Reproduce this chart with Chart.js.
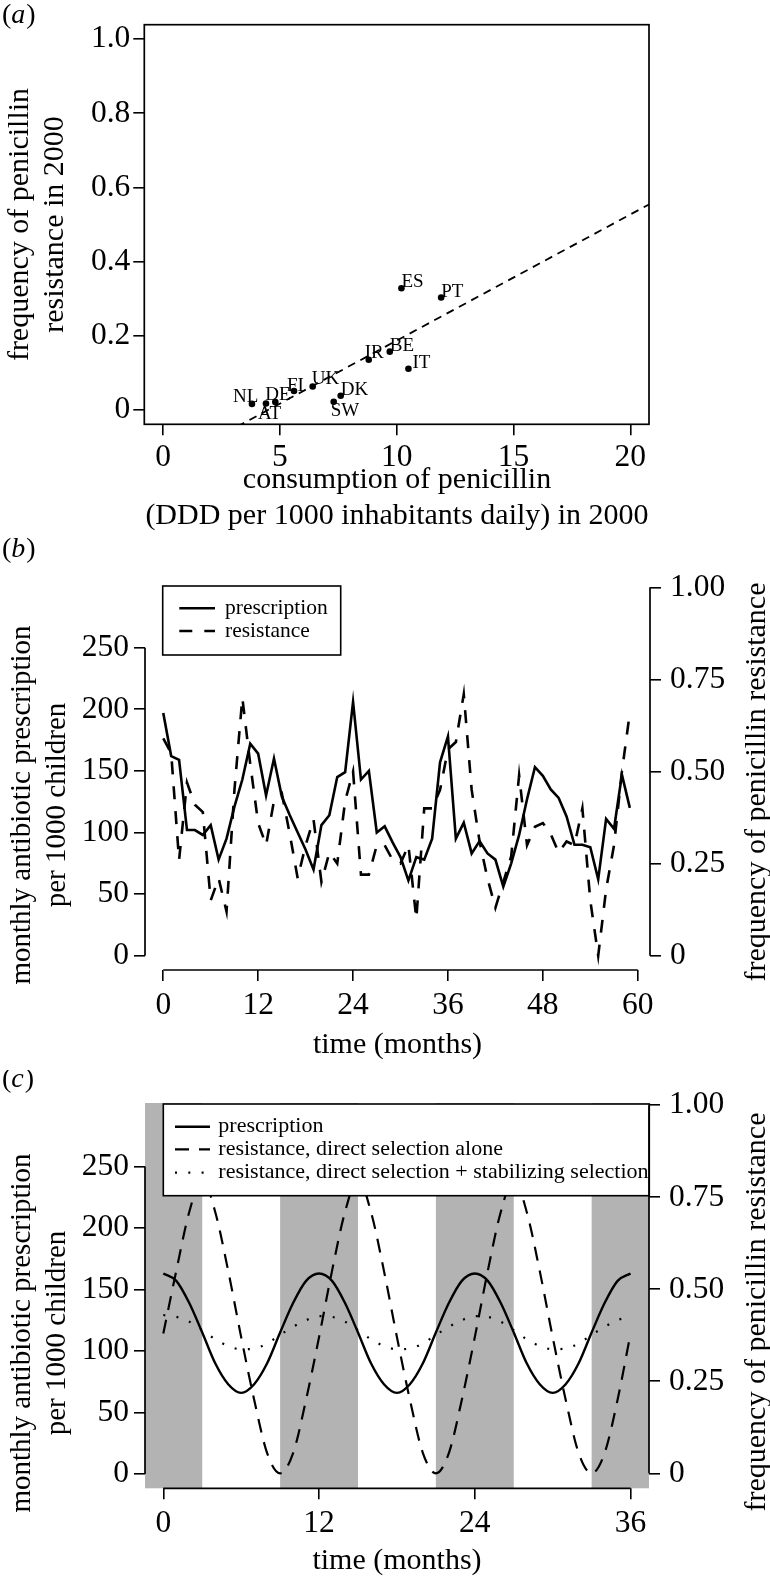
<!DOCTYPE html>
<html><head><meta charset="utf-8">
<script src="https://cdn.jsdelivr.net/npm/chart.js"></script>
<style>
html,body{margin:0;padding:0;background:#fff;}
#wrap{position:relative;width:770px;height:1582px;overflow:hidden;}
canvas{position:absolute;left:0;}
</style></head><body>
<div id="wrap">
<canvas id="ca" width="770" height="540" style="top:0px;width:770px;height:540px"></canvas>
<canvas id="cb" width="770" height="570" style="top:520px;width:770px;height:570px"></canvas>
<canvas id="cc" width="770" height="512" style="top:1070px;width:770px;height:512px"></canvas>
</div>
<script>
// ---------- Panel (a) data ----------
const countries      = ['NL','AT','DE','FI','UK','SW','DK','IR','BE','ES','IT','PT'];
const consumption    = [3.8, 4.4, 4.8, 5.6, 6.4, 7.3, 7.6, 8.8, 9.7, 10.2, 10.5, 11.9];
const resistance2000 = [0.016, 0.017, 0.021, 0.051, 0.063, 0.022, 0.038, 0.135, 0.157, 0.328, 0.111, 0.303];
const fitX = [0, 21];
const fitY = [-0.153, 0.561];
const aXTicks = [0, 5, 10, 15, 20];
const aXTickLabels = ['0','5','10','15','20'];
const aYTicks = [0, 0.2, 0.4, 0.6, 0.8, 1.0];
const aYTickLabels = ['0','0.2','0.4','0.6','0.8','1.0'];

// ---------- Panel (b) data ----------
const monthsB = [0,1,2,3,4,5,6,7,8,9,10,11,12,13,14,15,16,17,18,19,20,21,22,23,24,25,26,27,28,29,
                 30,31,32,33,34,35,36,37,38,39,40,41,42,43,44,45,46,47,48,49,50,51,52,53,54,55,56,57,58,59];
const prescriptionB = [197,162,159,102,102,98,106,78,95,121,143,172,164,130,160,129,114,100,86,70,
                       106,114,145,149,206,143,150,100,105,92,80,61,80,78,95,157,178,95,108,83,
                       93,83,78,56,75,98,127,153,146,135,128,113,90,90,88,62,111,103,147,120];
const resistanceB = [0.59,0.55,0.26,0.47,0.41,0.39,0.15,0.21,0.12,0.45,0.70,0.52,0.36,0.30,0.42,0.44,0.33,0.21,0.30,0.37,
                     0.20,0.28,0.25,0.42,0.50,0.22,0.22,0.30,0.30,0.26,0.25,0.30,0.10,0.40,0.40,0.45,0.56,0.58,0.71,0.45,
                     0.31,0.21,0.13,0.20,0.27,0.49,0.30,0.35,0.36,0.33,0.28,0.31,0.30,0.40,0.15,0.00,0.18,0.30,0.50,0.66];
const bXTicks = [0, 12, 24, 36, 48, 60];
const leftTicks = [0, 50, 100, 150, 200, 250];
const leftTickLabels = ['0','50','100','150','200','250'];
const rightTicks = [0, 0.25, 0.5, 0.75, 1];
const rightTickLabels = ['0','0.25','0.50','0.75','1.00'];

// ---------- Panel (c) data ----------
const monthsC = [0,1,2,3,4,5,6,7,8,9,10,11,12,13,14,15,16,17,18,19,20,21,22,23,24,25,26,27,28,29,30,31,32,33,34,35,36];
const prescriptionC = [163,157,139,115,90,73,66,73,90,115,139,157,163,157,139,115,90,73,66,73,90,115,139,157,
                       163,157,139,115,90,73,66,73,90,115,139,157,163];
const resistDirectC = [0.38,0.55,0.71,0.80,0.71,0.55,0.37,0.20,0.055,0,0.055,0.20,0.37,0.55,0.71,0.80,0.71,0.55,0.37,
                       0.20,0.055,0,0.055,0.20,0.37,0.55,0.71,0.80,0.71,0.55,0.37,0.20,0.055,0,0.055,0.20,0.38];
const resistStabC = [0.430,0.425,0.412,0.389,0.364,0.346,0.337,0.339,0.353,0.376,0.398,0.416,0.427,0.425,0.412,0.389,
                     0.364,0.346,0.337,0.339,0.353,0.376,0.398,0.416,0.427,0.425,0.412,0.389,0.364,0.346,0.337,0.339,
                     0.353,0.376,0.398,0.416,0.427];
const cXTicks = [0, 12, 24, 36];
const bandStart = [-2, 9, 21, 33];
const bandEnd   = [3, 15, 27, 38];

// ---------- common ----------
const SERIF = '"Liberation Serif", "DejaVu Serif", serif';
const TICK = 31.5, TITLE = 30, LEG = 21.5;
Chart.defaults.font.family = SERIF;
Chart.defaults.color = '#000';

const toXY = (xs, ys) => xs.map((x, i) => ({x: x, y: ys[i]}));

function makeScale(opt) {
  return {
    type: 'linear',
    position: opt.position,
    min: opt.min, max: opt.max,
    afterBuildTicks: s => { s.ticks = opt.ticks.map(v => ({value: v})); },
    afterFit: s => { if (opt.width !== undefined) s.width = opt.width; if (opt.height !== undefined) s.height = opt.height; },
    ticks: {
      autoSkip: false, maxRotation: 0, minRotation: 0,
      padding: opt.padding,
      color: '#000',
      font: {size: TICK, family: SERIF},
      callback: (v, i) => opt.labels[i]
    },
    grid: {display: true, drawOnChartArea: false, drawTicks: true, tickLength: 11, color: '#000', lineWidth: 1.6},
    border: {display: false}
  };
}

const rAxes = {
  id: 'rAxes',
  afterDraw(chart, args, opts) {
    const ctx = chart.ctx;
    ctx.save();
    ctx.strokeStyle = '#000';
    ctx.lineWidth = 1.7;
    (opts.lines || []).forEach(id => {
      const s = chart.scales[id];
      const ts = s.ticks;
      const p1 = s.getPixelForValue(ts[0].value);
      const p2 = s.getPixelForValue(ts[ts.length - 1].value);
      ctx.beginPath();
      if (s.isHorizontal()) { ctx.moveTo(p1, s.top); ctx.lineTo(p2, s.top); }
      else { const x = s.position === 'left' ? s.right : s.left; ctx.moveTo(x, p1); ctx.lineTo(x, p2); }
      ctx.stroke();
    });
    if (opts.box) {
      const a = chart.chartArea;
      ctx.strokeRect(a.left, a.top, a.right - a.left, a.bottom - a.top);
    }
    ctx.restore();
  }
};

const texts = {
  id: 'texts',
  afterDraw(chart, args, opts) {
    const ctx = chart.ctx;
    (opts.items || []).forEach(it => {
      ctx.save();
      ctx.fillStyle = '#000';
      ctx.textBaseline = 'middle';
      ctx.translate(it.x, it.y);
      if (it.rot) ctx.rotate(it.rot);
      if (it.letter) {
        const size = it.size;
        ctx.textAlign = 'left';
        ctx.font = size + 'px ' + SERIF;
        let x = 0;
        ctx.fillText('(', x, 0); x += ctx.measureText('(').width;
        ctx.font = 'italic ' + size + 'px ' + SERIF;
        ctx.fillText(it.letter, x, 0); x += ctx.measureText(it.letter).width + 1;
        ctx.font = size + 'px ' + SERIF;
        ctx.fillText(')', x, 0);
      } else {
        ctx.textAlign = it.align || 'center';
        ctx.font = it.size + 'px ' + SERIF;
        ctx.fillText(it.t, 0, 0);
      }
      ctx.restore();
    });
  }
};

const pointLabels = {
  id: 'pointLabels',
  afterDatasetsDraw(chart, args, opts) {
    if (!opts.offsets) return;
    const ctx = chart.ctx;
    const meta = chart.getDatasetMeta(opts.dataset);
    ctx.save();
    ctx.fillStyle = '#000';
    ctx.font = opts.size + 'px ' + SERIF;
    ctx.textAlign = 'left';
    ctx.textBaseline = 'middle';
    meta.data.forEach((el, i) => {
      const lab = opts.labels[i];
      const o = opts.offsets[lab] || [0, -6];
      ctx.fillText(lab, el.x + o[0], el.y + o[1]);
    });
    ctx.restore();
  }
};

const bands = {
  id: 'bands',
  beforeDatasetsDraw(chart, args, opts) {
    if (!opts.starts) return;
    const ctx = chart.ctx, a = chart.chartArea, xs = chart.scales.x;
    ctx.save();
    ctx.fillStyle = opts.color;
    opts.starts.forEach((s, i) => {
      let x1 = Math.max(a.left, xs.getPixelForValue(s));
      let x2 = Math.min(a.right, xs.getPixelForValue(opts.ends[i]));
      ctx.fillRect(x1, a.top, x2 - x1, a.bottom - a.top);
    });
    ctx.restore();
  }
};

const boxLegend = {
  id: 'boxLegend',
  afterDatasetsDraw(chart, args, opts) {
    if (!opts.box) return;
    const ctx = chart.ctx;
    const [x1, y1, x2, y2] = opts.box;
    ctx.save();
    ctx.fillStyle = '#fff';
    ctx.fillRect(x1, y1, x2 - x1, y2 - y1);
    opts.rows.forEach((ry, i) => {
      const ds = chart.data.datasets[i];
      ctx.save();
      ctx.strokeStyle = '#000';
      ctx.lineWidth = ds.borderWidth;
      ctx.setLineDash(ds.borderDash || []);
      ctx.lineCap = ds.borderCapStyle || 'butt';
      ctx.beginPath();
      ctx.moveTo(opts.sx1, ry); ctx.lineTo(opts.sx2, ry);
      ctx.stroke();
      ctx.restore();
      ctx.fillStyle = '#000';
      ctx.font = opts.size + 'px ' + SERIF;
      ctx.textAlign = 'left';
      ctx.textBaseline = 'middle';
      ctx.fillText(ds.label, opts.tx, ry);
    });
    ctx.strokeStyle = '#000';
    ctx.lineWidth = 1.6;
    ctx.strokeRect(x1, y1, x2 - x1, y2 - y1);
    ctx.restore();
  }
};

const basePlugins = {legend: {display: false}, tooltip: {enabled: false}};

// ---------- Chart (a) ----------
new Chart(document.getElementById('ca'), {
  type: 'scatter',
  data: {
    datasets: [
      {label: 'countries', data: toXY(consumption, resistance2000), pointRadius: 3.3, pointBackgroundColor: '#000',
       pointBorderColor: '#000', pointBorderWidth: 0, showLine: false},
      {label: 'fit', data: toXY(fitX, fitY), showLine: true, pointRadius: 0, borderColor: '#000', borderWidth: 1.8,
       borderDash: [8, 6], clip: 0}
    ]
  },
  options: {
    responsive: false, animation: false, devicePixelRatio: 1,
    layout: {padding: {top: 24.7, right: 121, left: 0, bottom: 0}},
    scales: {
      x: makeScale({position: 'bottom', min: -0.81, max: 20.8, ticks: aXTicks, labels: aXTickLabels, padding: 4, height: 115.7}),
      y: makeScale({position: 'left', min: -0.039, max: 1.039, ticks: aYTicks, labels: aYTickLabels, padding: 3, width: 144.3})
    },
    plugins: Object.assign({}, basePlugins, {
      rAxes: {box: true, lines: []},
      pointLabels: {dataset: 0, labels: countries, size: 19,
        offsets: {ES:[0,-6], PT:[0,-6], BE:[0,-6], IR:[-4,-7], IT:[4,-6], UK:[-1,-7], FI:[-7,-5],
                  DK:[0,-6], SW:[-3,9], NL:[-19,-7], AT:[-8,10], DE:[-10,-7]}},
      texts: {items: [
        {letter: 'a', x: 2, y: 16, size: 28},
        {t: 'frequency of penicillin', x: 20, y: 224.5, rot: -Math.PI / 2, size: TITLE},
        {t: 'resistance in 2000', x: 55, y: 224.5, rot: -Math.PI / 2, size: TITLE},
        {t: 'consumption of penicillin', x: 397, y: 480, size: TITLE},
        {t: '(DDD per 1000 inhabitants daily) in 2000', x: 397, y: 516, size: TITLE}
      ]}
    })
  },
  plugins: [rAxes, pointLabels, texts]
});

// ---------- Chart (b) ----------
new Chart(document.getElementById('cb'), {
  type: 'line',
  data: {
    datasets: [
      {label: 'prescription', data: toXY(monthsB, prescriptionB), yAxisID: 'y', borderColor: '#000', borderWidth: 2.6,
       pointRadius: 0, tension: 0, borderJoinStyle: 'miter'},
      {label: 'resistance', data: toXY(monthsB, resistanceB), yAxisID: 'y2', borderColor: '#000', borderWidth: 2.6,
       borderDash: [13, 12], pointRadius: 0, tension: 0}
    ]
  },
  options: {
    responsive: false, animation: false, devicePixelRatio: 1,
    layout: {padding: {top: 64.1, right: 0, left: 0, bottom: 0}},
    scales: {
      x: makeScale({position: 'bottom', min: -2.31, max: 61.55, ticks: bXTicks, labels: bXTicks.map(String), padding: 6, height: 120}),
      y: makeScale({position: 'left', min: -11.6, max: 301.6, ticks: leftTicks, labels: leftTickLabels, padding: 5, width: 145}),
      y2: makeScale({position: 'right', min: -0.0388, max: 1.0087, ticks: rightTicks, labels: rightTickLabels, padding: 9, width: 120})
    },
    plugins: Object.assign({}, basePlugins, {
      rAxes: {lines: ['x', 'y', 'y2']},
      boxLegend: {box: [162.7, 66, 340.7, 135], rows: [88.3, 111], sx1: 179.3, sx2: 215, tx: 225, size: LEG},
      texts: {items: [
        {letter: 'b', x: 2, y: 30, size: 28},
        {t: 'monthly antibiotic prescription', x: 22, y: 285, rot: -Math.PI / 2, size: TITLE - 1},
        {t: 'per 1000 children', x: 57, y: 285, rot: -Math.PI / 2, size: TITLE - 1},
        {t: 'frequency of penicillin resistance', x: 757, y: 262, rot: -Math.PI / 2, size: TITLE},
        {t: 'time (months)', x: 397.5, y: 525, size: TITLE}
      ]}
    })
  },
  plugins: [rAxes, boxLegend, texts]
});

// ---------- Chart (c) ----------
new Chart(document.getElementById('cc'), {
  type: 'line',
  data: {
    datasets: [
      {label: 'prescription', data: toXY(monthsC, prescriptionC), yAxisID: 'y', borderColor: '#000', borderWidth: 2.4,
       pointRadius: 0, cubicInterpolationMode: 'monotone'},
      {label: 'resistance, direct selection alone', data: toXY(monthsC, resistDirectC), yAxisID: 'y2', borderColor: '#000',
       borderWidth: 2.2, borderDash: [14, 10], pointRadius: 0, cubicInterpolationMode: 'monotone'},
      {label: 'resistance, direct selection + stabilizing selection', data: toXY(monthsC, resistStabC), yAxisID: 'y2',
       borderColor: '#000', borderWidth: 2.2, borderDash: [2, 11.3], pointRadius: 0, cubicInterpolationMode: 'monotone'}
    ]
  },
  options: {
    responsive: false, animation: false, devicePixelRatio: 1,
    layout: {padding: {top: 33, right: 0, left: 0, bottom: 0}},
    scales: {
      x: makeScale({position: 'bottom', min: -1.41, max: 37.42, ticks: cXTicks, labels: cXTicks.map(String), padding: 6, height: 93.7}),
      y: makeScale({position: 'left', min: -11.6, max: 301.6, ticks: leftTicks, labels: leftTickLabels, padding: 5, width: 145}),
      y2: makeScale({position: 'right', min: -0.0407, max: 1.006, ticks: rightTicks, labels: rightTickLabels, padding: 9, width: 121})
    },
    plugins: Object.assign({}, basePlugins, {
      bands: {starts: bandStart, ends: bandEnd, color: '#b3b3b3'},
      rAxes: {lines: ['x', 'y', 'y2']},
      boxLegend: {box: [163.3, 34, 649.3, 125.7], rows: [56.7, 79.3, 102.7], sx1: 175, sx2: 210, tx: 218.3, size: 22},
      texts: {items: [
        {letter: 'c', x: 2, y: 10, size: 28},
        {t: 'monthly antibiotic prescription', x: 22, y: 263, rot: -Math.PI / 2, size: TITLE - 1},
        {t: 'per 1000 children', x: 57, y: 263, rot: -Math.PI / 2, size: TITLE - 1},
        {t: 'frequency of penicillin resistance', x: 757, y: 242, rot: -Math.PI / 2, size: TITLE},
        {t: 'time (months)', x: 397, y: 491, size: TITLE}
      ]}
    })
  },
  plugins: [bands, rAxes, boxLegend, texts]
});
</script>
</body></html>
